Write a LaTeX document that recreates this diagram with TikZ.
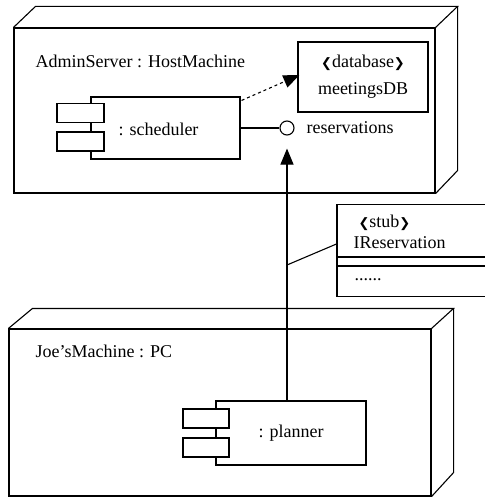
\documentclass[tikz,border=0pt]{standalone}
\usepackage{fontspec}
\setmainfont{Liberation Serif}
\newfontfamily\brk{DejaVu Sans}
\newcommand{\lbk}{{\brk\fontsize{13}{13}\selectfont ❮}}
\newcommand{\rbk}{{\brk\fontsize{13}{13}\selectfont ❯}}
\usetikzlibrary{calc,arrows.meta}
\begin{document}
\begin{tikzpicture}[x=1pt,y=-1pt,line width=1.1pt,
  font=\fontsize{18}{20}\selectfont,
  box/.style={draw,rectangle,inner sep=0pt},
  port/.style={box,fill=white,minimum width=47pt,minimum height=19pt},
  tri/.style={-{Triangle[length=16pt,width=13pt]}},
  txt/.style={inner sep=0pt,anchor=west}]
\useasboundingbox (0,0) rectangle (484,497);
% ---- AdminServer node
\node[box,minimum width=421pt,minimum height=165pt] (admin) at (224.5,110.5) {};
\draw (admin.north west) -- ++(22,-21) -- ($(admin.north east)+(22,-21)$) -- (admin.north east);
\draw ($(admin.north east)+(22,-21)$) -- ($(admin.south east)+(22,-23)$) -- (admin.south east);
\node[txt] (adminlbl) at (35,61) {AdminServer : HostMachine};
% scheduler component
\node[box,minimum width=149pt,minimum height=62pt] (sched) at (165.5,128) {};
\node[port] (sp1) at (80.5,113) {};
\node[port] (sp2) at (80.5,141.5) {};
\node[inner sep=0pt] (schedlbl) at (158.5,129) {: scheduler};
% database
\node[box,minimum width=130pt,minimum height=70pt,align=center,
  font=\fontsize{18}{27}\selectfont] (db) at (363,77)
  {\lbk database\rbk\\meetingsDB};
% interface
\node[draw,circle,minimum size=14pt,inner sep=0pt] (iface) at (287,128) {};
\node[txt] (ifacelbl) at (306,128) {reservations};
\draw (sched.east) -- (iface.west);
\draw[dashed,tri] ($(sched.north east)+(1,4)$) -- ([xshift=2pt,yshift=2pt]db.west);
% ---- Joe's machine node
\node[box,minimum width=422pt,minimum height=167pt] (pc) at (220,412.5) {};
\draw (pc.north west) -- ++(24,-20) -- ($(pc.north east)+(22,-20)$) -- (pc.north east);
\draw ($(pc.north east)+(22,-20)$) -- ($(pc.south east)+(22,-24)$) -- (pc.south east);
\node[txt] (pclbl) at (35,351) {Joe’sMachine : PC};
% planner component
\node[box,minimum width=150pt,minimum height=64pt] (planner) at (291,433) {: planner};
\node[port,minimum width=46pt] (pp1) at (206,418.5) {};
\node[port,minimum width=46pt] (pp2) at (206,447.5) {};
% dependency arrow
\coordinate (tail) at (iface |- planner.north);
\coordinate (knee) at (287,265);
\draw[tri] (tail) -- ([yshift=-13pt]iface.south);
% stub note
\node[box,minimum width=153pt,minimum height=92pt] (stub) at (413.5,250.5) {};
\draw (stub.west |- 0,257) -- (stub.east |- 0,257);
\draw (stub.west |- 0,266) -- (stub.east |- 0,266);
\node[txt] (stubst) at (358,223) {\lbk stub\rbk};
\node[txt] (stubnm) at (353,243) {IReservation};
\node[txt] (stubdots) at (354,280) {......};
\draw (knee) -- (stub.west |- 0,244);
\end{tikzpicture}
\end{document}
